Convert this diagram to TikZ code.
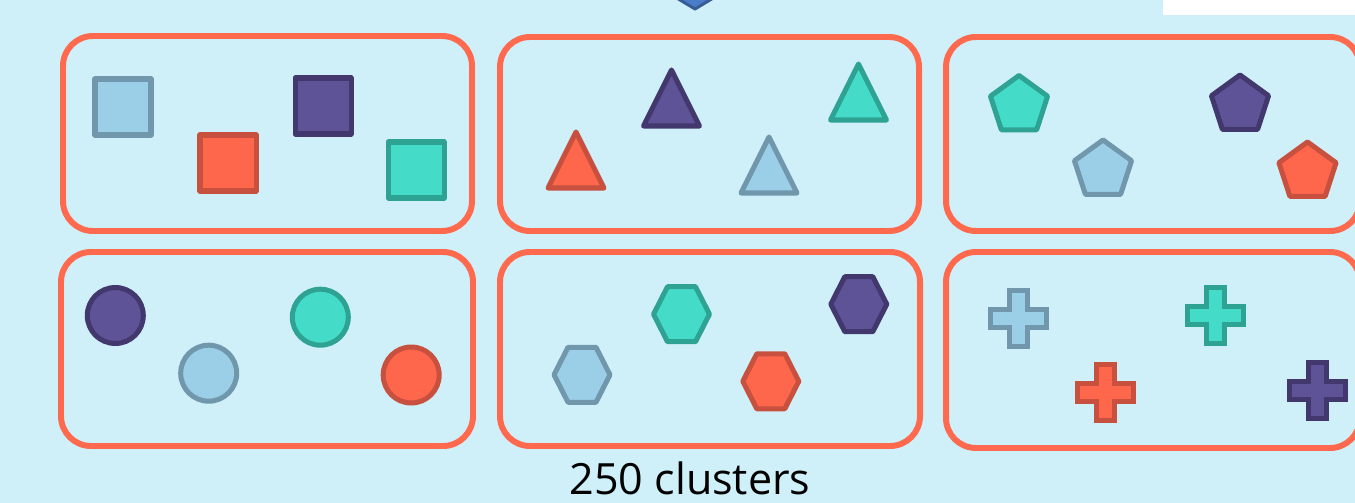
\documentclass[tikz,border=0pt]{standalone}
\usepackage{fontspec}
\setmainfont{Open Sans}
\usepackage{tikz}
\usetikzlibrary{positioning}
\definecolor{bgcyan}{RGB}{207,240,249}
\definecolor{boxred}{RGB}{255,106,79}
\definecolor{lbfill}{RGB}{155,207,232}\definecolor{lbline}{RGB}{112,151,171}
\definecolor{rdfill}{RGB}{255,103,77}\definecolor{rdline}{RGB}{199,80,62}
\definecolor{pufill}{RGB}{94,83,150}\definecolor{puline}{RGB}{67,56,110}
\definecolor{tlfill}{RGB}{69,219,201}\definecolor{tlline}{RGB}{46,163,147}
\definecolor{dmfill}{RGB}{74,125,200}\definecolor{dmline}{RGB}{55,92,150}

\begin{document}
\begin{tikzpicture}[x=0.02cm,y=-0.02cm,
  cbox/.style={draw=boxred,line width=3.4pt,rounded corners=0.6cm},
  shp/.style={line width=2.85pt,line join=round},
  lb/.style={shp,fill=lbfill,draw=lbline},
  rd/.style={shp,fill=rdfill,draw=rdline},
  pu/.style={shp,fill=pufill,draw=puline},
  tl/.style={shp,fill=tlfill,draw=tlline},
  lab/.style={font=\fontsize{24.5}{29}\selectfont,inner sep=0pt}]
\useasboundingbox (0,0) rectangle (1355,503);
\fill[bgcyan] (0,0) rectangle (1355,503);
\clip (0,0) rectangle (1355,503);
% bits cut off at the top
\draw[fill=dmfill,draw=dmline,line width=1.7pt,line join=round] (670,-6) -- (695,9) -- (720,-6) -- cycle;
\fill[white] (1163,0) rectangle (1355,15);
% cluster boxes
\draw[cbox] (63,36) rectangle (472,231);
\draw[cbox] (500,37) rectangle (919,231);
\draw[cbox] (946,37) rectangle (1360,231);
\draw[cbox] (61,252) rectangle (473,446);
\draw[cbox] (500,252) rectangle (920,446);
\draw[cbox] (946,252) rectangle (1360,448);
% squares
\foreach \cx/\cy/\s in {123/107/lb, 228/163/rd, 323/106/pu, 416/170/tl}
  \draw[\s] (\cx-28,\cy-28) rectangle (\cx+28,\cy+28);
% triangles
\foreach \cx/\by/\s in {671.5/126/pu, 858.5/120/tl, 576/188/rd, 769/193/lb}
  \draw[\s] (\cx-28,\by) -- (\cx,\by-56) -- (\cx+28,\by) -- cycle;
% pentagons
\foreach \cx/\cy/\s in {1019/105.5/tl, 1240/105/pu, 1103/170/lb, 1307.5/172/rd}
  \draw[\s] (\cx,\cy) ++(-90:30) -- ++(36:35.3) -- ++(108:35.3) -- ++(180:35.3) -- ++(252:35.3) -- cycle;
% circles
\foreach \cx/\cy/\s in {115.3/315.5/pu, 208.7/373.2/lb, 320.3/317.2/tl, 411.2/375/rd}
  \draw[\s] (\cx,\cy) circle (28);
% hexagons
\foreach \cx/\cy/\s in {681.5/314.2/tl, 858.8/304.2/pu, 582/374.8/lb, 770.8/381.3/rd}
  \draw[\s] (\cx-28,\cy) -- (\cx-14,\cy-27.5) -- (\cx+14,\cy-27.5) -- (\cx+28,\cy)
    -- (\cx+14,\cy+27.5) -- (\cx-14,\cy+27.5) -- cycle;
% crosses
\foreach \cx/\cy/\s in {1018.8/318.7/lb, 1215.3/315.8/tl, 1105.5/392.2/rd, 1317.8/390.8/pu}
  \draw[\s,line join=miter] (\cx,\cy) ++(-9,-28) -- ++(18,0) -- ++(0,19) -- ++(19,0) -- ++(0,18)
    -- ++(-19,0) -- ++(0,19) -- ++(-18,0) -- ++(0,-19) -- ++(-19,0) -- ++(0,-18) -- ++(19,0) -- cycle;
\node[lab,anchor=base] (count) at (690,494) {250 clusters};
\end{tikzpicture}
\end{document}
